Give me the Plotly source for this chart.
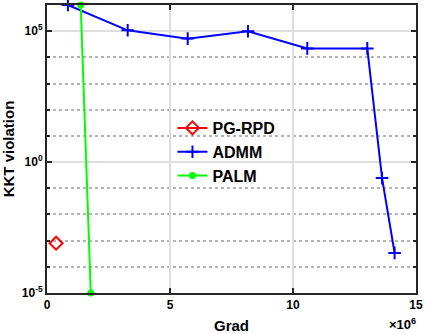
import plotly.graph_objects as go

# values (x in gradient evaluations, y = KKT violation)
pgrpd_x = [0.37e6]
pgrpd_y = [8e-4]

admm_x = [0.85e6, 3.28e6, 5.72e6, 8.17e6, 10.58e6, 13.02e6, 13.62e6, 14.13e6]
admm_y = [1e6, 1.08e5, 5.2e4, 1.0e5, 2.2e4, 2.2e4, 0.245, 3.4e-4]

palm_x = [1.37e6, 1.78e6]
palm_y = [1e6, 1e-5]

x_ticks = [0, 5e6, 10e6, 15e6]
x_labels = ["0", "5", "10", "15"]
y_ticks = [1e-5, 1, 1e5]
y_labels = ["10<sup>-5</sup>", "10<sup>0</sup>", "10<sup>5</sup>"]
y_minor = [10.0 ** k for k in range(-5, 7)]

font = dict(family="Liberation Sans, Arial", color="black", weight="bold")

fig = go.Figure()
fig.add_trace(go.Scatter(
    x=pgrpd_x, y=pgrpd_y, name="PG-RPD", mode="lines+markers",
    line=dict(color="#ff0000", width=2),
    marker=dict(symbol="diamond-open", size=10, color="#ff0000", line=dict(width=2)),
    cliponaxis=False,
))
fig.add_trace(go.Scatter(
    x=admm_x, y=admm_y, name="ADMM", mode="lines+markers",
    line=dict(color="#0000ff", width=2),
    marker=dict(symbol="cross-thin", size=9, color="#0000ff", line=dict(width=2, color="#0000ff")),
    cliponaxis=False,
))
fig.add_trace(go.Scatter(
    x=palm_x, y=palm_y, name="PALM", mode="lines+markers",
    line=dict(color="#00ff00", width=2),
    marker=dict(symbol="circle", size=7, color="#00ff00"),
    cliponaxis=False,
))

axis_common = dict(
    showline=True, linecolor="#262626", linewidth=2, mirror="allticks",
    ticks="inside", ticklen=5, tickwidth=1.5, tickcolor="#262626",
    gridcolor="#dedede", gridwidth=1.5, zeroline=False, automargin=False,
    tickfont=dict(size=12, **font),
)

fig.update_xaxes(
    range=[0, 15e6], tickvals=x_ticks, ticktext=x_labels,
    title=dict(text="Grad", font=dict(size=15, **font), standoff=11),
    **axis_common,
)
fig.update_yaxes(
    type="log", range=[-5, 6], tickvals=y_ticks, ticktext=y_labels,
    title=dict(text="KKT violation", font=dict(size=15, **font), standoff=4),
    minor=dict(tickvals=y_minor, ticks="inside", ticklen=3, tickcolor="#262626",
               showgrid=True, griddash="dot", gridcolor="#b4b4b4", gridwidth=1.5),
    **axis_common,
)

fig.add_annotation(
    x=1, y=0, xref="paper", yref="paper", xanchor="right", yanchor="top",
    yshift=-21, xshift=2, text="\u00d710<sup>6</sup>", showarrow=False,
    font=dict(size=13, **font),
)

fig.update_layout(
    width=425, height=334,
    margin=dict(l=47, r=9, t=5, b=41, autoexpand=False),
    paper_bgcolor="white", plot_bgcolor="white",
    showlegend=True,
    legend=dict(x=0.34, y=0.632, xanchor="left", yanchor="top",
                bgcolor="rgba(0,0,0,0)", borderwidth=0,
                font=dict(size=16, **font), tracegroupgap=0),
)

# the page's default body margin would push the figure 8px down and right
fig.write_html("out.html", config={"displayModeBar": False},
               post_script="document.body.style.margin='0';")
